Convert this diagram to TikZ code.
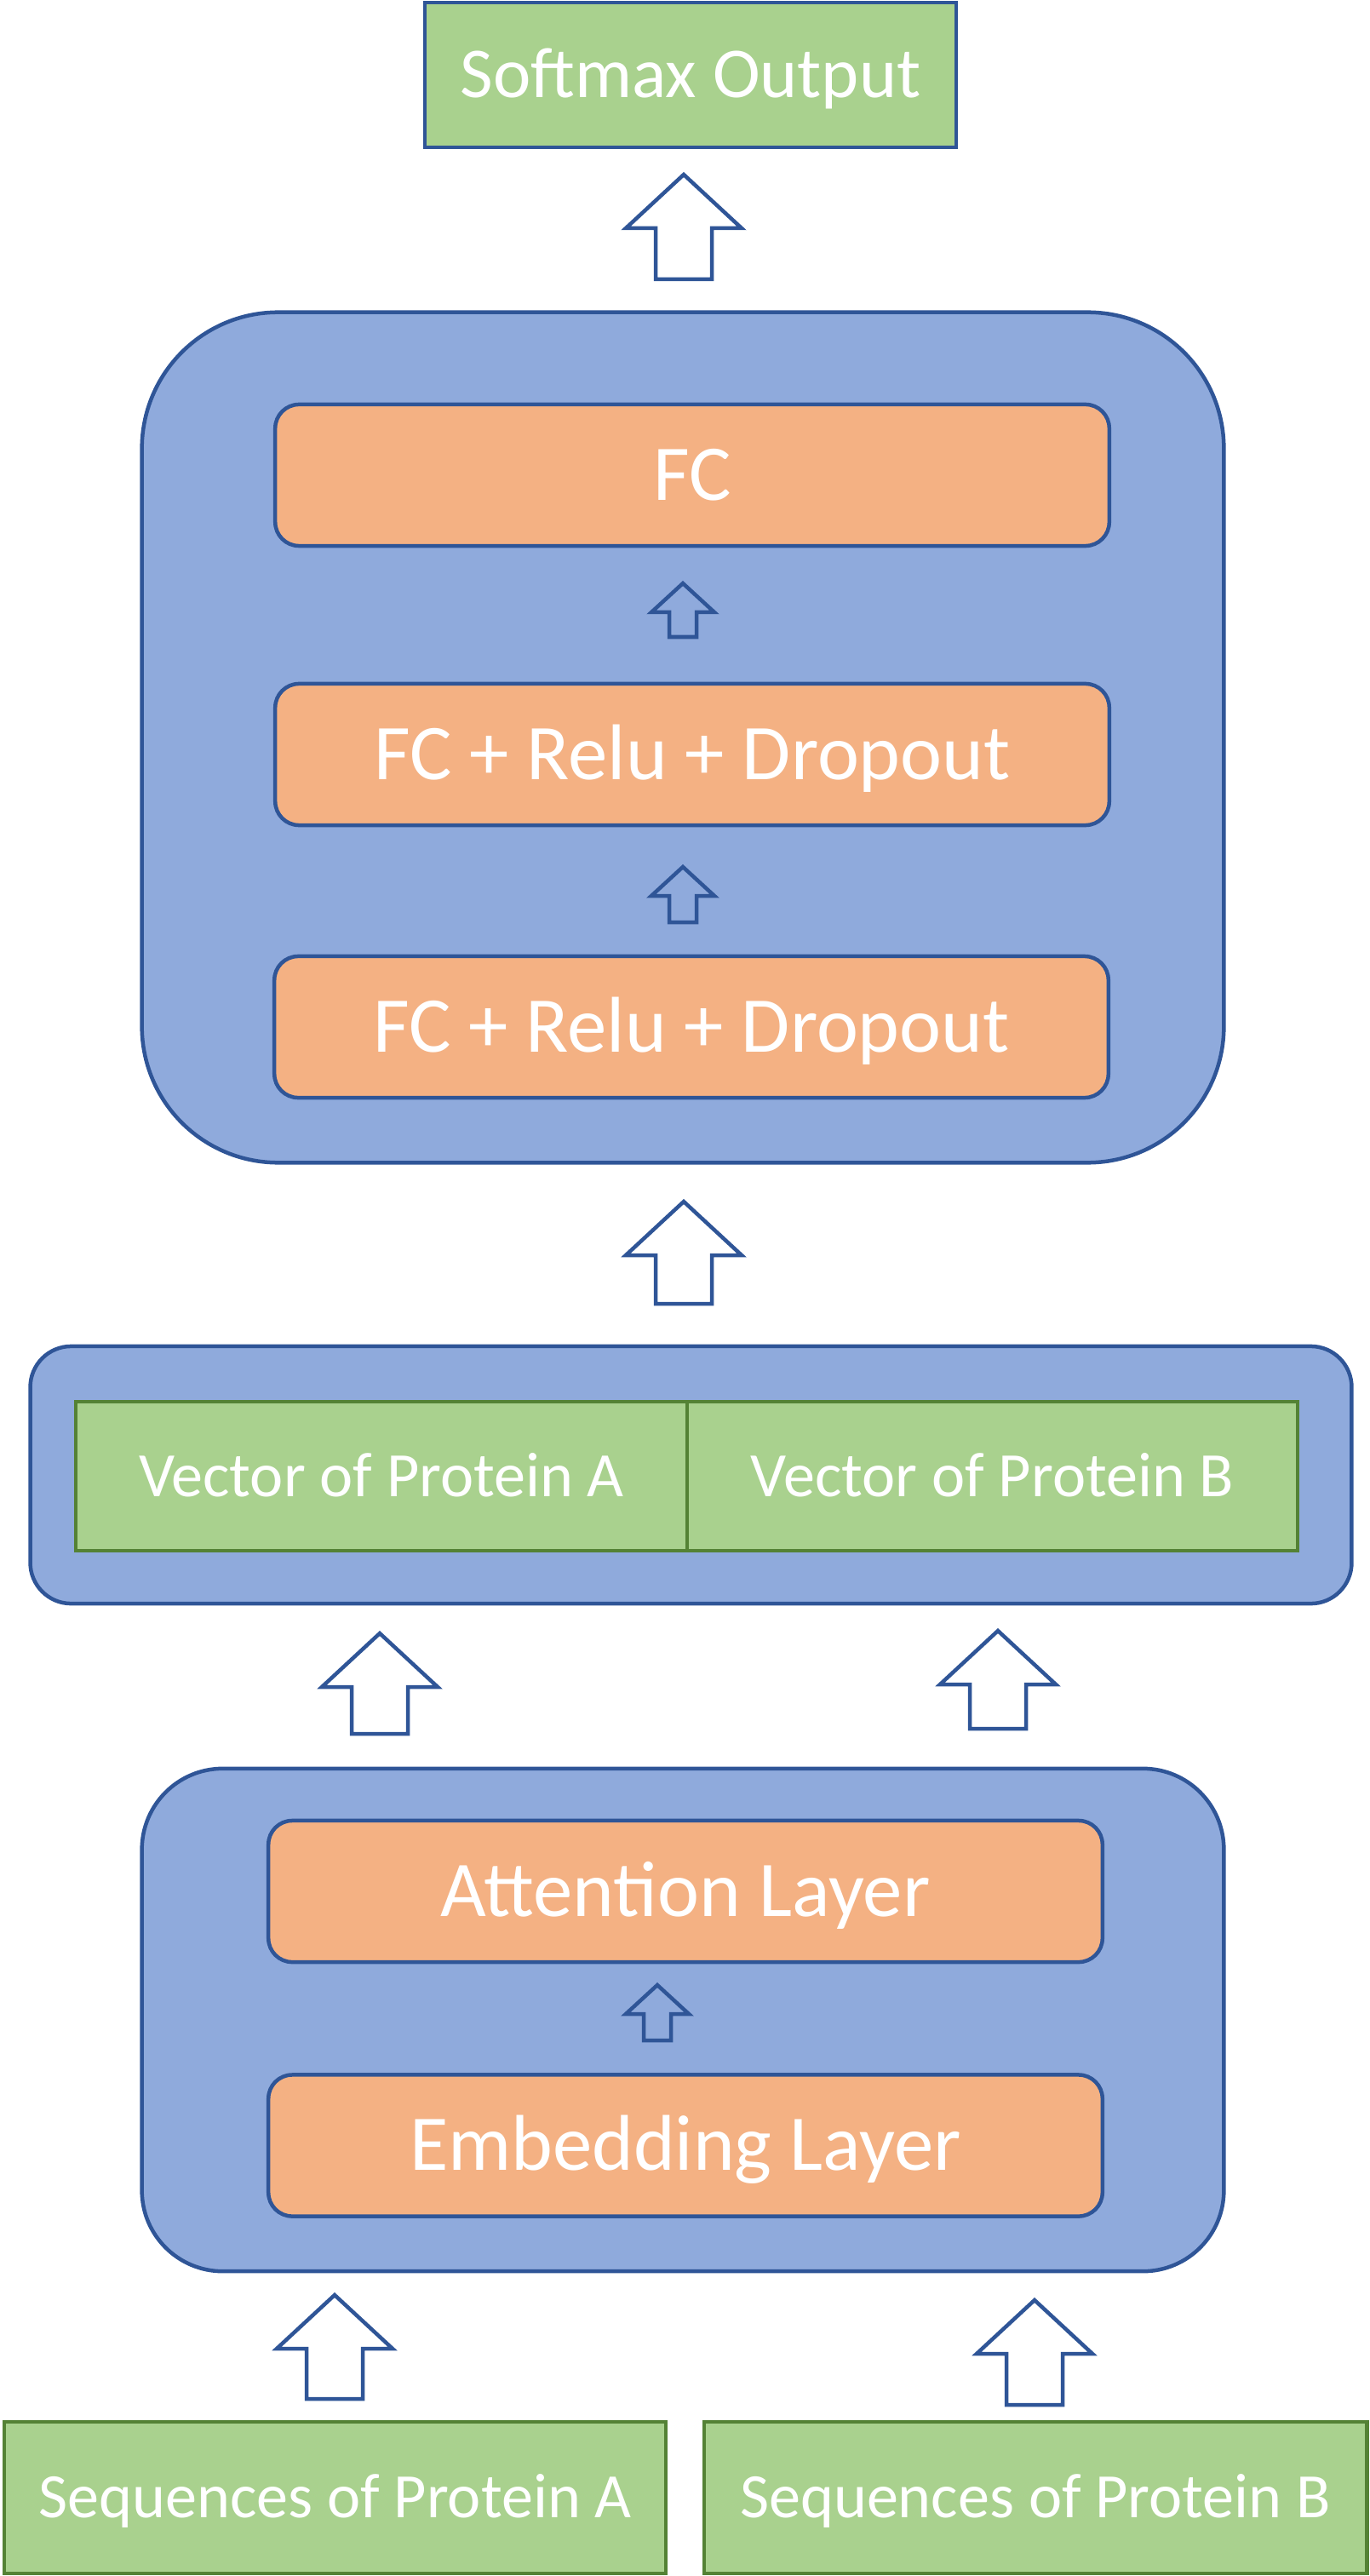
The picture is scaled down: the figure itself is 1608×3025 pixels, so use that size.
\documentclass[tikz,border=0pt]{standalone}
\usepackage{fontspec}
\setmainfont{Carlito}
\usetikzlibrary{calc}
\definecolor{boxblue}{HTML}{8FAADC}
\definecolor{edgeblue}{HTML}{2F5597}
\definecolor{boxorange}{HTML}{F4B183}
\definecolor{boxgreen}{HTML}{A9D18E}
\definecolor{edgegreen}{HTML}{548235}

\begin{document}
\begin{tikzpicture}[x=0.01cm, y=-0.01cm, line width=0.045cm, every node/.style={inner sep=0pt, text=white}]
  % Define styles
  \tikzstyle{outer} = [rectangle, draw=edgeblue, fill=boxblue]
  \tikzstyle{layer} = [rectangle, rounded corners=0.28cm, draw=edgeblue, fill=boxorange, minimum width=9.79cm, minimum height=1.66cm, text height=0.585cm, text depth=0pt, font=\fontsize{26.4}{30}\selectfont]
  \tikzstyle{vector} = [rectangle, draw=edgegreen, fill=boxgreen, minimum height=1.75cm, text height=0.47cm, text depth=0pt, font=\fontsize{21.1}{25}\selectfont]
  \tikzstyle{seq} = [rectangle, draw=edgegreen, fill=boxgreen, minimum width=7.77cm, minimum height=1.78cm, text height=0.47cm, text depth=0pt, font=\fontsize{21.1}{25}\selectfont]
  \tikzstyle{bigarrow} = [draw=edgeblue, fill=white, to path={($(\tikztostart)+(-33,0)$) -- ($(\tikztotarget)+(-33,63)$) -- ($(\tikztotarget)+(-68,63)$) -- (\tikztotarget) -- ($(\tikztotarget)+(68,63)$) -- ($(\tikztotarget)+(33,63)$) -- ($(\tikztostart)+(33,0)$) -- cycle}]
  \tikzstyle{smallarrow} = [draw=edgeblue, to path={($(\tikztostart)+(-16,0)$) -- ($(\tikztotarget)+(-16,34)$) -- ($(\tikztotarget)+(-37,34)$) -- (\tikztotarget) -- ($(\tikztotarget)+(37,34)$) -- ($(\tikztotarget)+(16,34)$) -- ($(\tikztostart)+(16,0)$) -- cycle}]

  \useasboundingbox (0,0) rectangle (1608,3025);

  % Place nodes
  \node [rectangle, draw=edgeblue, fill=boxgreen, minimum width=6.24cm, minimum height=1.70cm, text height=0.53cm, text depth=0pt, font=\fontsize{23.9}{28}\selectfont] (softmax) at (811,88) {Softmax Output};

  \node [outer, rounded corners=1.6cm, minimum width=12.7cm, minimum height=9.98cm] (mlp) at (802,866) {};
  \node [layer] (fc) at (813,558) {FC};
  \node [layer] (fcrelu1) at (813,886) {FC + Relu + Dropout};
  \node [layer] (fcrelu2) at (812,1206) {FC + Relu + Dropout};

  \node [outer, rounded corners=0.48cm, minimum width=15.51cm, minimum height=3.02cm] (concat) at (811.5,1732) {};
  \node [vector, minimum width=7.18cm] (vecA) at (448,1733.5) {Vector of Protein A};
  \node [vector, minimum width=7.17cm] (vecB) at (1165.5,1733.5) {Vector of Protein B};

  \node [outer, rounded corners=0.95cm, minimum width=12.7cm, minimum height=5.9cm] (encoder) at (802,2372) {};
  \node [layer] (attn) at (805,2221) {Attention Layer};
  \node [layer] (embed) at (805,2519.5) {Embedding Layer};

  \node [seq] (seqA) at (393.5,2933) {Sequences of Protein A};
  \node [seq, minimum width=7.78cm] (seqB) at (1216,2933) {Sequences of Protein B};

  % Arrow ends
  \coordinate (outTail) at (803,328);   \coordinate (outTip) at (803,205);
  \coordinate (fcTail) at (802,748);    \coordinate (fcTip) at (802,685);
  \coordinate (reluTail) at (802,1083); \coordinate (reluTip) at (802,1018);
  \coordinate (mlpTail) at (803,1531);  \coordinate (mlpTip) at (803,1411);
  \coordinate (vecATail) at (446,2036); \coordinate (vecATip) at (446,1918);
  \coordinate (vecBTail) at (1172,2030); \coordinate (vecBTip) at (1172,1915);
  \coordinate (attnTail) at (772,2396); \coordinate (attnTip) at (772,2331);
  \coordinate (seqATail) at (393,2817); \coordinate (seqATip) at (393,2695);
  \coordinate (seqBTail) at (1215,2824); \coordinate (seqBTip) at (1215,2701);

  % Draw edges
  \path [bigarrow] (outTail) to (outTip);
  \path [smallarrow] (fcTail) to (fcTip);
  \path [smallarrow] (reluTail) to (reluTip);
  \path [bigarrow] (mlpTail) to (mlpTip);
  \path [bigarrow] (vecATail) to (vecATip);
  \path [bigarrow] (vecBTail) to (vecBTip);
  \path [smallarrow] (attnTail) to (attnTip);
  \path [bigarrow] (seqATail) to (seqATip);
  \path [bigarrow] (seqBTail) to (seqBTip);

\end{tikzpicture}
\end{document}
